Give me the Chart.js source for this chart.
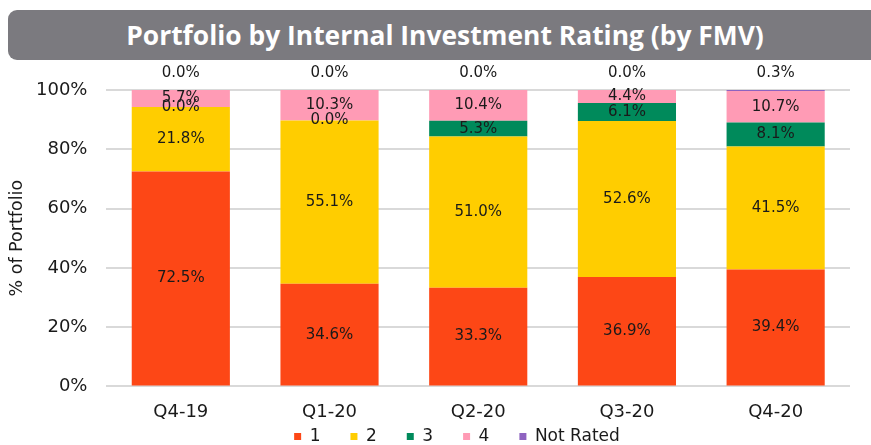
<!DOCTYPE html>
<html>
<head>
<meta charset="utf-8">
<script src="https://cdn.jsdelivr.net/npm/chart.js@4.4.1/dist/chart.umd.min.js"></script>
<style>
  body { margin: 0; background: #fff; width: 871px; height: 445px; overflow: hidden; position: relative; }
  #title {
    position: absolute; left: 8px; top: 10px; width: 880px; height: 50px;
    background: #7b7a7f; border-radius: 9px; color: #fff;
    font: bold 26.4px "Open Sans", sans-serif; line-height: 50px; text-align: center;
    box-sizing: border-box; padding-right: 6px;
  }
  #wrap { position: absolute; left: 0; top: 0; width: 871px; height: 445px; }
</style>
</head>
<body>
<div id="title">Portfolio by Internal Investment Rating (by FMV)</div>
<div id="wrap"><canvas id="chart" width="871" height="445"></canvas></div>
<script>
// quarters on the x axis
const quarters = ['Q4-19', 'Q1-20', 'Q2-20', 'Q3-20', 'Q4-20'];

// share of portfolio (%) per rating
const rating1 = [72.5, 34.6, 33.3, 36.9, 39.4];
const rating2 = [21.8, 55.1, 51.0, 52.6, 41.5];
const rating3 = [0.0, 0.0, 5.3, 6.1, 8.1];
const rating4 = [5.7, 10.3, 10.4, 4.4, 10.7];
const notRated = [0.0, 0.0, 0.0, 0.0, 0.3];

const yTicks = [0, 20, 40, 60, 80, 100];

const FONT = '"DejaVu Sans", sans-serif';
const TEXT = '#1a1a1a';

// value labels in the middle of each segment; "Not Rated" sits above the bar
const valueLabels = {
  id: 'valueLabels',
  afterDatasetsDraw(chart) {
    const { ctx, chartArea } = chart;
    ctx.save();
    ctx.font = '15px ' + FONT;
    ctx.fillStyle = TEXT;
    ctx.textAlign = 'center';
    ctx.textBaseline = 'middle';
    chart.data.datasets.forEach((ds, i) => {
      const meta = chart.getDatasetMeta(i);
      meta.data.forEach((bar, j) => {
        const txt = ds.data[j].toFixed(1) + '%';
        let y = (bar.y + bar.base) / 2;
        if (ds.label === 'Not Rated') y = chartArea.top - 17;
        ctx.fillText(txt, bar.x, y);
      });
    });
    ctx.restore();
  }
};

// legend needs wide item spacing but a tight gap under the x labels,
// so nudge the legend box after layout
const legendShift = {
  id: 'legendShift',
  afterLayout(chart) {
    const lg = chart.legend;
    lg.top -= 40; lg.bottom -= 40;
    lg.left += 32; lg.right += 32;
  }
};

new Chart(document.getElementById('chart'), {
  type: 'bar',
  data: {
    labels: quarters,
    datasets: [
      { label: '1', data: rating1, backgroundColor: '#fd4716' },
      { label: '2', data: rating2, backgroundColor: '#ffcd00' },
      { label: '3', data: rating3, backgroundColor: '#008a5b' },
      { label: '4', data: rating4, backgroundColor: '#ff9bb5' },
      { label: 'Not Rated', data: notRated, backgroundColor: '#8e63c0' },
    ],
  },
  options: {
    responsive: false,
    animation: false,
    layout: { padding: { top: 90, right: 21, left: 0, bottom: -50 } },
    datasets: { bar: { categoryPercentage: 0.66, barPercentage: 1.0 } },
    plugins: {
      tooltip: { enabled: false },
      legend: {
        position: 'bottom',
        labels: {
          font: { family: FONT, size: 17 },
          color: TEXT,
          boxWidth: 7,
          boxHeight: 7,
          padding: 30,
        },
      },
    },
    scales: {
      x: {
        stacked: true,
        grid: { display: false, drawTicks: false },
        border: { display: false },
        ticks: { font: { family: FONT, size: 18 }, color: TEXT, padding: 15 },
      },
      y: {
        stacked: true,
        min: 0,
        max: 100,
        afterBuildTicks: axis => { axis.ticks = yTicks.map(v => ({ value: v })); },
        grid: { color: '#d9d9d9', lineWidth: 2, drawTicks: false },
        border: { display: false },
        ticks: {
          font: { family: FONT, size: 18 },
          color: TEXT,
          padding: 19,
          callback: v => v + '%',
        },
        title: {
          display: true,
          text: '% of Portfolio',
          font: { family: FONT, size: 17.5 },
          color: TEXT,
          padding: { top: 7, bottom: -11 },
        },
      },
    },
  },
  plugins: [valueLabels, legendShift],
});
</script>
</body>
</html>
